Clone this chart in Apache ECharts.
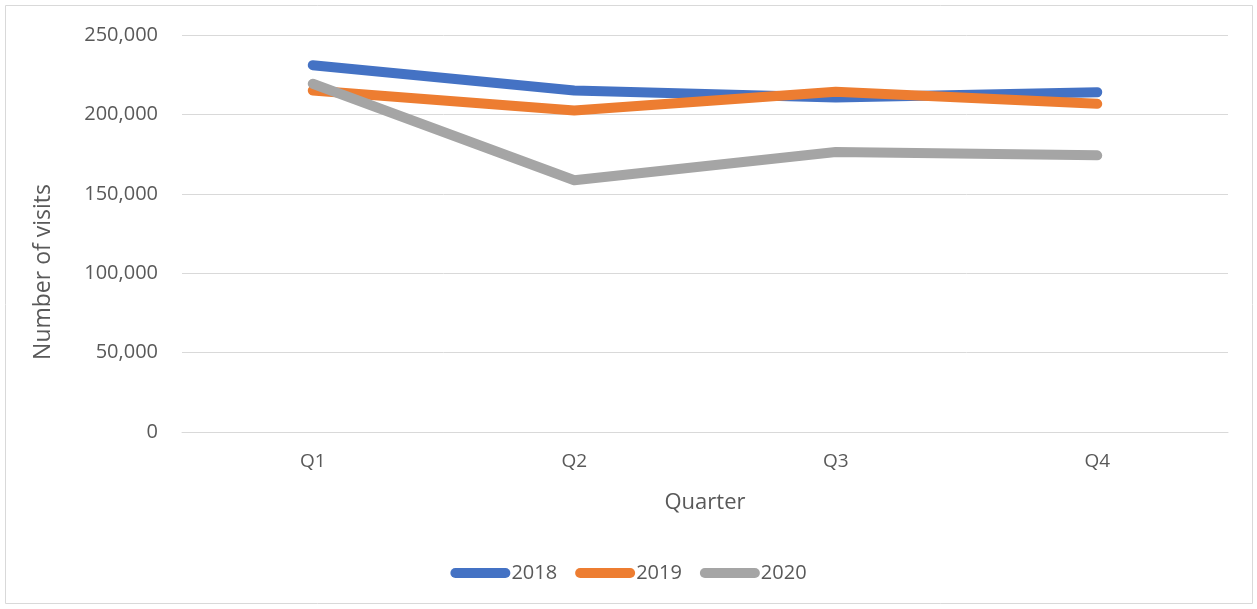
<!DOCTYPE html>
<html>
<head>
<meta charset="utf-8">
<script src="https://cdn.jsdelivr.net/npm/echarts@6/dist/echarts.min.js"></script>
<style>
  html, body { margin: 0; padding: 0; background: #fff; }
  #chart { width: 1257px; height: 609px; }
</style>
</head>
<body>
<div id="chart"></div>
<script>
var quarters = ['Q1', 'Q2', 'Q3', 'Q4'];
var visits2018 = [231000, 215000, 210700, 214000];
var visits2019 = [215100, 202500, 214300, 206700];
var visits2020 = [219300, 158500, 176300, 174200];
var yTicks = [0, 50000, 100000, 150000, 200000, 250000];

var capsule = 'path://M5,0 H55 A5,5 0 0 1 55,10 H5 A5,5 0 0 1 5,0 Z';

function lineSeries(name, data, color) {
  return {
    name: name,
    type: 'line',
    data: data,
    symbol: 'none',
    lineStyle: { width: 10, color: color, cap: 'round', join: 'round' },
    itemStyle: { color: color },
    emphasis: { disabled: true },
    animation: false
  };
}

var chart = echarts.init(document.getElementById('chart'));
chart.setOption({
  textStyle: { fontFamily: 'Open Sans, Liberation Sans, sans-serif' },
  graphic: [{
    type: 'rect',
    shape: { x: 5.5, y: 5.5, width: 1247, height: 598 },
    style: { fill: 'none', stroke: '#d9d9d9', lineWidth: 1 },
    silent: true
  }, {
    // y axis title sits a bit below the plot centre, like the original
    type: 'text',
    x: 43,
    y: 272,
    rotation: Math.PI / 2,
    style: {
      text: 'Number of visits',
      fill: '#595959',
      fontSize: 23,
      fontFamily: 'Open Sans, Liberation Sans, sans-serif',
      align: 'center',
      verticalAlign: 'middle'
    },
    silent: true
  }],
  grid: { left: 182, right: 29, top: 35, bottom: 177 },
  legend: {
    bottom: 21,
    left: 'center',
    itemWidth: 60,
    itemHeight: 10,
    itemGap: 18,
    icon: capsule,
    textStyle: { color: '#595959', fontSize: 20, padding: [0, 0, 0, -4] },
    data: ['2018', '2019', '2020']
  },
  xAxis: {
    type: 'category',
    data: quarters,
    boundaryGap: true,
    name: 'Quarter',
    nameLocation: 'middle',
    nameGap: 60,
    nameTextStyle: { color: '#595959', fontSize: 22 },
    axisLine: { lineStyle: { color: '#d9d9d9', width: 1 } },
    axisTick: { show: false },
    axisLabel: { color: '#595959', fontSize: 19, margin: 20 }
  },
  yAxis: {
    type: 'value',
    min: yTicks[0],
    max: yTicks[yTicks.length - 1],
    interval: 50000,
    axisLine: { show: false },
    axisTick: { show: false },
    splitLine: { lineStyle: { color: '#d9d9d9', width: 1 } },
    axisLabel: {
      color: '#595959',
      fontSize: 20,
      margin: 24,
      formatter: function (v) { return v.toLocaleString('en-US'); }
    }
  },
  series: [
    lineSeries('2018', visits2018, '#4472c4'),
    lineSeries('2019', visits2019, '#ed7d31'),
    lineSeries('2020', visits2020, '#a5a5a5')
  ]
});
</script>
</body>
</html>
